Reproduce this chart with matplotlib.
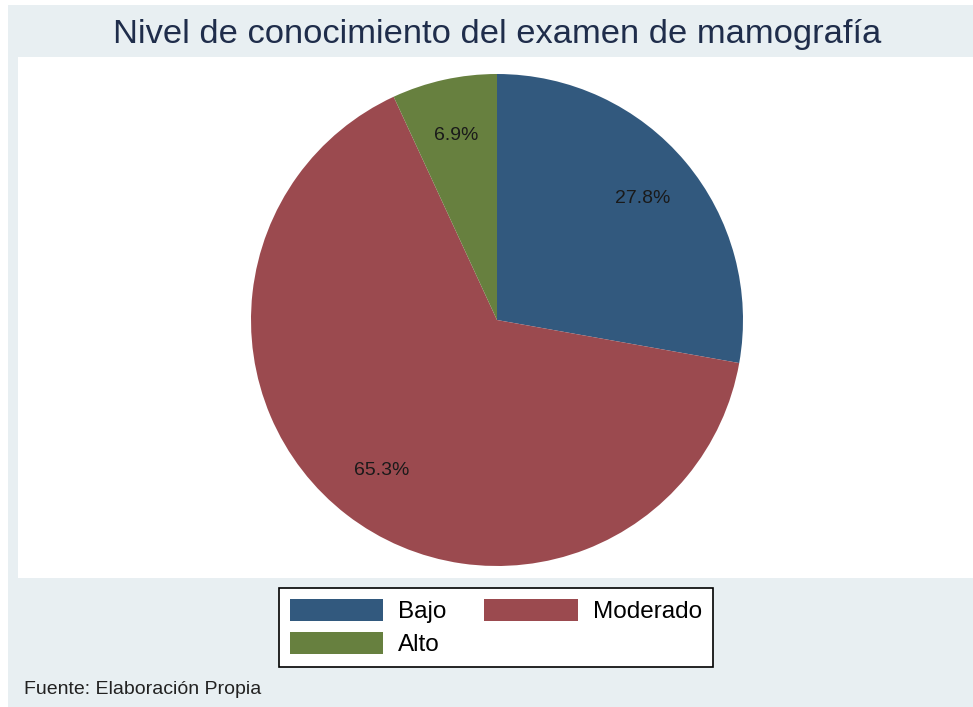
import matplotlib
matplotlib.use("Agg")
import matplotlib.pyplot as plt
import matplotlib.patches as patches

plt.rcParams['font.family'] = ['Liberation Sans', 'DejaVu Sans']

# datos
categorias = ["Bajo", "Moderado", "Alto"]
porcentajes = [27.8, 65.3, 6.9]
colores = ["#32597e", "#9b4a4f", "#67803f"]

titulo = "Nivel de conocimiento del examen de mamografía"
fuente = "Fuente: Elaboración Propia"

W, H = 973, 707
fig = plt.figure(figsize=(W / 100, H / 100), dpi=100)
fig.patch.set_facecolor("white")

def px(x, y):
    return x / W, 1 - y / H

# fondo gris claro tipo Stata
x0, y0 = px(8, 707)
fig.add_artist(patches.Rectangle((x0, y0), 1 - x0, 1 - 5 / H - y0,
                                 transform=fig.transFigure, facecolor="#e8eff2",
                                 edgecolor="none", zorder=0))
# region del grafico (blanca)
x1, y1 = px(18, 578)
fig.add_artist(patches.Rectangle((x1, y1), 1 - x1, (578 - 57) / H,
                                 transform=fig.transFigure, facecolor="white",
                                 edgecolor="none", zorder=0))

# pastel
cx, cy, r = 497, 320, 246
ax = fig.add_axes([(cx - r) / W, 1 - (cy + r) / H, 2 * r / W, 2 * r / H])
ax.set_facecolor("none")
wedges, _, autotexts = ax.pie(porcentajes, colors=colores, startangle=90, counterclock=False,
                              radius=1, autopct=lambda p: f"{p:.1f}%", pctdistance=0.77,
                              wedgeprops=dict(linewidth=0), textprops=dict(fontsize=14, color="#1a1a1a"))
ax.set_xlim(-1, 1)
ax.set_ylim(-1, 1)
ax.set_aspect("equal")
ax.axis("off")

fig.text(497 / W, 1 - 35 / H, titulo, ha="center", va="center", fontsize=24.8, color="#1f2d4b")
fig.text(24 / W, 1 - 689 / H, fuente, ha="left", va="center", fontsize=14, color="#222222")

# leyenda por filas: Bajo, Moderado / Alto
orden = [0, 2, 1]
leg = fig.legend([wedges[i] for i in orden], [categorias[i] for i in orden],
                 loc="center", bbox_to_anchor=px(496, 627.5), ncol=2,
                 fontsize=17.5, handlelength=3.85, handleheight=1.03, handletextpad=0.62,
                 columnspacing=1.55, labelspacing=0.35, borderpad=0.45, fancybox=False,
                 frameon=True, edgecolor="black", framealpha=1)
leg.get_frame().set_linewidth(1.2)

fig.savefig("out.png", dpi=100, facecolor=fig.get_facecolor())
